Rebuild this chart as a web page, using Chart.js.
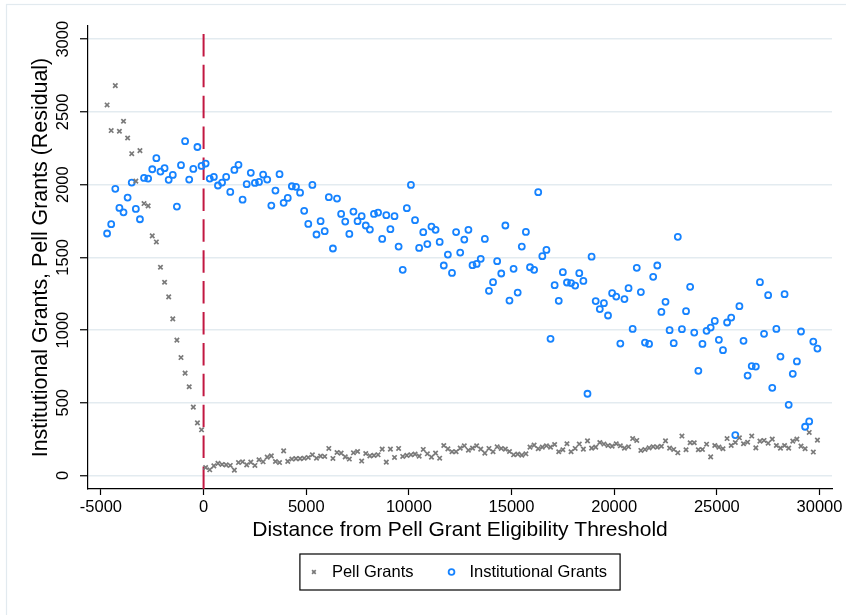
<!DOCTYPE html>
<html>
<head>
<meta charset="utf-8">
<script src="https://cdn.jsdelivr.net/npm/chart.js@4.4.0/dist/chart.umd.min.js"></script>
<style>
  html, body { margin: 0; padding: 0; background: #fff; }
  #wrap { width: 846px; height: 615px; }
</style>
</head>
<body>
<div id="wrap"><canvas id="chart" width="846" height="615"></canvas></div>
<script>
// bin centres (distance from threshold)
const binCenters = [
  -4700, -4500, -4300, -4100, -3900, -3700, -3500, -3300, -3100, -2900,
  -2700, -2500, -2300, -2100, -1900, -1700, -1500, -1300, -1100, -900,
  -700, -500, -300, -100,
  100, 300, 500, 700, 900, 1100, 1300, 1500, 1700, 1900,
  2100, 2300, 2500, 2700, 2900, 3100, 3300, 3500, 3700, 3900,
  4100, 4300, 4500, 4700, 4900, 5100, 5300, 5500, 5700, 5900,
  6100, 6300, 6500, 6700, 6900, 7100, 7300, 7500, 7700, 7900,
  8100, 8300, 8500, 8700, 8900, 9100, 9300, 9500, 9700, 9900,
  10100, 10300, 10500, 10700, 10900, 11100, 11300, 11500, 11700, 11900,
  12100, 12300, 12500, 12700, 12900, 13100, 13300, 13500, 13700, 13900,
  14100, 14300, 14500, 14700, 14900, 15100, 15300, 15500, 15700, 15900,
  16100, 16300, 16500, 16700, 16900, 17100, 17300, 17500, 17700, 17900,
  18100, 18300, 18500, 18700, 18900, 19100, 19300, 19500, 19700, 19900,
  20100, 20300, 20500, 20700, 20900, 21100, 21300, 21500, 21700, 21900,
  22100, 22300, 22500, 22700, 22900, 23100, 23300, 23500, 23700, 23900,
  24100, 24300, 24500, 24700, 24900, 25100, 25300, 25500, 25700, 25900,
  26100, 26300, 26500, 26700, 26900, 27100, 27300, 27500, 27700, 27900,
  28100, 28300, 28500, 28700, 28900, 29100, 29300, 29500, 29700, 29900
];

const pellGrants = [
  2548, 2372, 2681, 2367, 2436, 2321, 2213, 2024, 2234, 1870,
  1854, 1648, 1606, 1432, 1329, 1228, 1077, 931, 811, 704,
  610, 470, 362, 314,
  55, 39, 66, 83, 76, 73, 69, 37, 89, 94,
  73, 92, 69, 108, 94, 126, 135, 96, 89, 169,
  97, 113, 116, 116, 119, 124, 142, 119, 133, 131,
  186, 117, 158, 154, 128, 113, 156, 165, 99, 151,
  135, 138, 142, 181, 92, 181, 124, 186, 131, 138,
  142, 147, 133, 179, 149, 126, 154, 119, 206, 183,
  163, 163, 188, 204, 174, 188, 204, 181, 154, 186,
  163, 197, 186, 181, 165, 142, 147, 140, 149, 195,
  209, 184, 195, 204, 195, 213, 163, 177, 218, 163,
  186, 216, 181, 238, 188, 195, 227, 216, 206, 202,
  218, 204, 188, 197, 254, 241, 172, 179, 190, 198,
  195, 201, 238, 188, 179, 156, 271, 177, 225, 225,
  177, 179, 215, 128, 206, 195, 184, 254, 206, 227,
  259, 218, 229, 271, 190, 236, 241, 222, 250, 206,
  188, 206, 188, 236, 250, 202, 184, 296, 161, 243
];

const institutionalGrants = [
  1664, 1728, 1971, 1840, 1810, 1911, 2014, 1833, 1762, 2046,
  2042, 2106, 2182, 2090, 2113, 2033, 2067, 1849, 2134, 2299,
  2035, 2108, 2259, 2129,
  2145, 2042, 2053, 1994, 2014, 2053, 1950, 2101, 2136, 1897,
  2003, 2081, 2012, 2019, 2069, 2035, 1856, 1959, 2072, 1875,
  1909, 1989, 1985, 1945, 1820, 1730, 1998, 1657, 1749, 1680,
  1914, 1561, 1904, 1799, 1746, 1661, 1815, 1749, 1783, 1719,
  1691, 1799, 1808, 1627, 1790, 1694, 1783, 1574, 1414, 1838,
  1998, 1756, 1565, 1673, 1591, 1712, 1689, 1606, 1444, 1519,
  1393, 1674, 1533, 1622, 1689, 1446, 1455, 1490, 1627, 1270,
  1329, 1474, 1389, 1719, 1203, 1421, 1258, 1574, 1675, 1432,
  1414, 1948, 1508, 1551, 940, 1309, 1201, 1398, 1327, 1323,
  1306, 1391, 1338, 562, 1505, 1199, 1144, 1185, 1100, 1254,
  1230, 907, 1213, 1288, 1008, 1428, 1261, 914, 905, 1366,
  1444, 1125, 1194, 999, 910, 1641, 1006, 1130, 1297, 983,
  720, 905, 995, 1017, 1063, 933, 862, 1052, 1086, 278,
  1164, 926, 687, 752, 749, 1329, 974, 1240, 603, 1008,
  818, 1247, 486, 699, 784, 990, 335, 372, 921, 873
];

const xTicks = [-5000, 0, 5000, 10000, 15000, 20000, 25000, 30000];
const yTicks = [0, 500, 1000, 1500, 2000, 2500, 3000];
const threshold = 0;

const xMin = -5630, xMax = 30610;
const yMin = -93, yMax = 3091;

const FONT = '"Liberation Sans", Arial, Helvetica, sans-serif';
const PELL_COLOR = '#7a7a7a';
const INST_COLOR = '#1683ff';
const LINE_COLOR = '#c21741';

Chart.defaults.font.family = FONT;
Chart.defaults.color = '#000';

const toPoints = (ys) => binCenters.map((x, i) => ({ x: x, y: ys[i] }));

// outer light frame like the graph region border
const frame = {
  id: 'frame',
  beforeDraw(chart) {
    const ctx = chart.ctx;
    ctx.save();
    ctx.fillStyle = '#fff';
    ctx.fillRect(0, 0, chart.width, chart.height);
    ctx.strokeStyle = '#e2eaef';
    ctx.lineWidth = 1.2;
    ctx.strokeRect(6.5, 4.5, chart.width + 20, chart.height + 20);
    ctx.restore();
  }
};

// boxed legend centred under the plot region
const boxLegend = {
  id: 'boxLegend',
  afterDraw(chart) {
    const { ctx, chartArea } = chart;
    const items = chart.data.datasets.filter(d => d.inLegend);
    ctx.save();
    ctx.font = '16.5px ' + FONT;
    const widths = items.map(d => ctx.measureText(d.label).width);
    const padL = 14, markGap = 18, itemGap = 38, padR = 13;
    let total = padL + padR + itemGap * (items.length - 1);
    widths.forEach(w => { total += markGap + w; });
    const left = (chartArea.left + chartArea.right) / 2 - total / 2;
    const top = chartArea.bottom + 65;
    const h = 36;
    ctx.strokeStyle = '#000';
    ctx.lineWidth = 1.2;
    ctx.strokeRect(left, top, total, h);
    const cy = top + h / 2;
    let x = left + padL;
    items.forEach((d, i) => {
      ctx.strokeStyle = d.borderColor;
      ctx.fillStyle = 'rgba(0,0,0,0)';
      ctx.lineWidth = d.borderWidth;
      Chart.helpers.drawPoint(ctx, {
        pointStyle: d.pointStyle, radius: d.legendRadius, rotation: 0, borderWidth: d.borderWidth
      }, x, cy);
      ctx.fillStyle = '#000';
      ctx.textBaseline = 'middle';
      ctx.textAlign = 'left';
      ctx.fillText(d.label, x + markGap, cy);
      x += markGap + widths[i] + itemGap;
    });
    ctx.restore();
  }
};

new Chart(document.getElementById('chart'), {
  type: 'scatter',
  data: {
    datasets: [
      {
        label: 'Pell Grants',
        data: toPoints(pellGrants),
        inLegend: true,
        legendRadius: 2.6,
        pointStyle: 'crossRot',
        pointRadius: 3.1,
        borderWidth: 1.7,
        borderColor: PELL_COLOR,
        backgroundColor: PELL_COLOR,
        order: 0
      },
      {
        label: 'Institutional Grants',
        data: toPoints(institutionalGrants),
        inLegend: true,
        legendRadius: 2.9,
        pointStyle: 'circle',
        pointRadius: 3.0,
        borderWidth: 1.8,
        borderColor: INST_COLOR,
        backgroundColor: 'rgba(0,0,0,0)',
        order: 0
      },
      {
        label: 'Eligibility threshold',
        data: [{ x: threshold, y: yMin }, { x: threshold, y: yMax }],
        showLine: true,
        pointRadius: 0,
        borderColor: LINE_COLOR,
        borderWidth: 2,
        borderDash: [22.5, 8.4],
        order: 1
      }
    ]
  },
  options: {
    responsive: false,
    animation: false,
    events: [],
    layout: { padding: { left: 0, top: 26, right: 14, bottom: 70 } },
    plugins: {
      legend: { display: false },
      tooltip: { enabled: false }
    },
    scales: {
      x: {
        type: 'linear',
        position: 'bottom',
        min: xMin,
        max: xMax,
        afterBuildTicks: (s) => { s.ticks = xTicks.map(v => ({ value: v })); },
        afterFit: (s) => { s.height = 56; },
        ticks: {
          autoSkip: false,
          maxRotation: 0,
          padding: 3,
          font: { size: 16.5 },
          color: '#000',
          callback: (v) => String(v)
        },
        grid: {
          drawOnChartArea: false,
          drawTicks: true,
          tickLength: 6,
          tickColor: '#000',
          tickWidth: 1.2
        },
        border: { color: '#000', width: 1.2 },
        title: {
          display: true,
          text: 'Distance from Pell Grant Eligibility Threshold',
          font: { size: 21 },
          color: '#000',
          padding: { top: 0, bottom: 2.4 }
        }
      },
      y: {
        type: 'linear',
        min: yMin,
        max: yMax,
        afterBuildTicks: (s) => { s.ticks = yTicks.map(v => ({ value: v })); },
        afterFit: (s) => { s.width = 88; },
        ticks: {
          minRotation: 90,
          maxRotation: 90,
          crossAlign: 'center',
          padding: -2,
          font: { size: 16.5 },
          color: '#000',
          callback: (v) => String(v)
        },
        grid: {
          color: '#e3ebf0',
          lineWidth: 1.5,
          tickLength: 8,
          tickColor: '#000',
          tickWidth: 1.2
        },
        border: { color: '#000', width: 1.2 },
        title: {
          display: true,
          text: 'Institutional Grants, Pell Grants (Residual)',
          font: { size: 21.4 },
          color: '#000',
          padding: { top: 28, bottom: 0 }
        }
      }
    }
  },
  plugins: [frame, boxLegend]
});
</script>
</body>
</html>
